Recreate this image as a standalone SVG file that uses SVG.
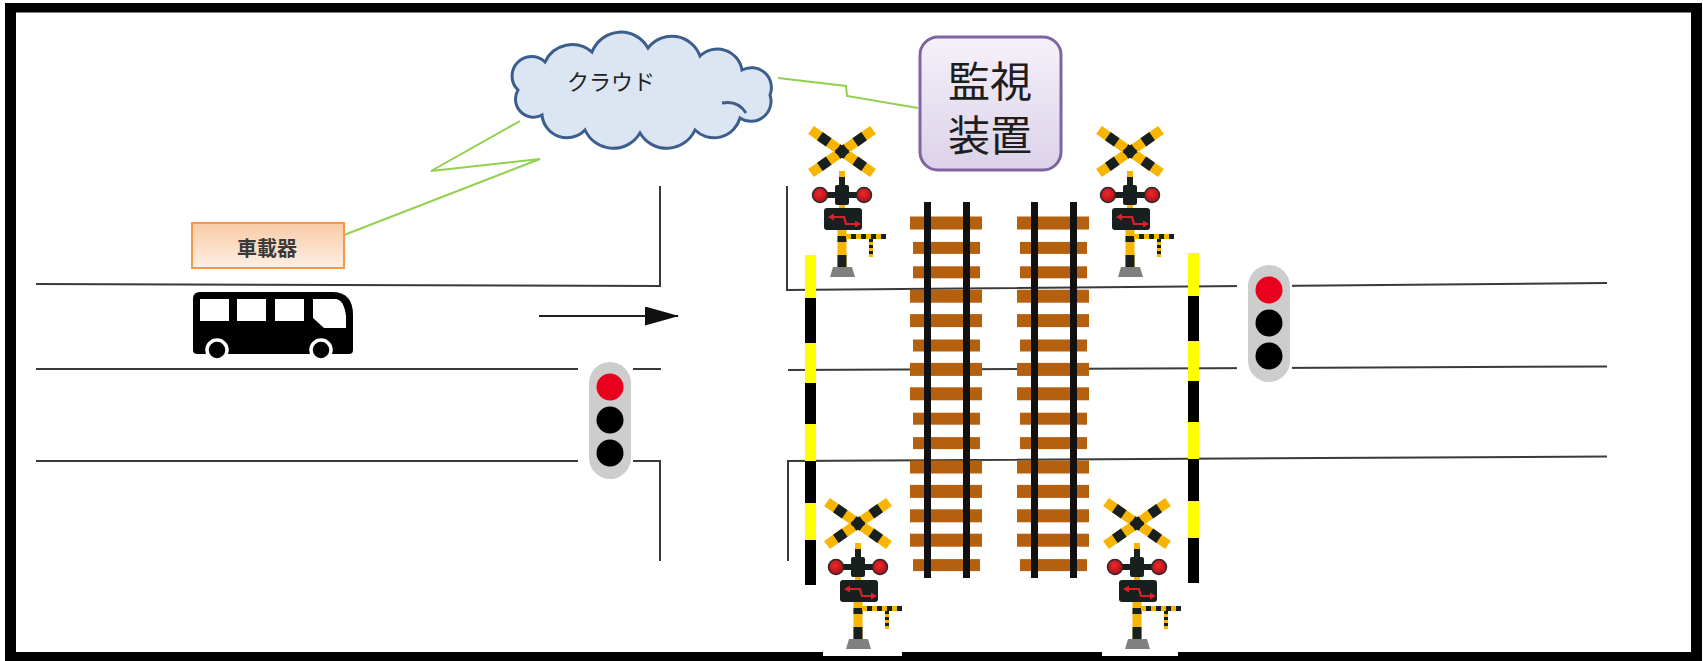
<svg xmlns="http://www.w3.org/2000/svg" width="1703" height="661" viewBox="0 0 1703 661">
<style>
  .road{fill:none;stroke:#3a3a3a;stroke-width:2}
  .bolt{fill:none;stroke:#92D050;stroke-width:2}
  .tie{fill:#B4600F}
  .rail{fill:#111}
  .jp{font-family:"Noto Sans CJK JP","Noto Sans",sans-serif}
  .jpbig{font-family:"Liberation Sans","Noto Sans CJK JP",sans-serif}
  .frame{fill:#000}
</style>
<defs>
  <linearGradient id="gOrange" x1="0" y1="0" x2="0" y2="1">
    <stop offset="0" stop-color="#F9CBA6"/>
    <stop offset="1" stop-color="#FEEFE4"/>
  </linearGradient>
  <linearGradient id="gPurple" x1="0" y1="0" x2="0" y2="1">
    <stop offset="0" stop-color="#F5F1F9"/>
    <stop offset="1" stop-color="#DCD2E9"/>
  </linearGradient>
  <radialGradient id="gLamp" cx="0.45" cy="0.4" r="0.6">
    <stop offset="0" stop-color="#F02828"/>
    <stop offset="1" stop-color="#A8101A"/>
  </radialGradient>
  <marker id="arrowHead" markerWidth="34" markerHeight="20" refX="33" refY="9.5" orient="auto" markerUnits="userSpaceOnUse">
    <polygon points="0,0 34,9.5 0,19" fill="#111"/>
  </marker>

  <!-- railway crossing signal, origin at the centre of the crossbuck -->
  <g id="xingSignal">
    <line x1="-31" y1="-21" x2="31" y2="22" stroke="#F7B500" stroke-width="10"/>
    <line x1="31" y1="-21" x2="-31" y2="22" stroke="#F7B500" stroke-width="10"/>
    <line x1="-31" y1="-21" x2="31" y2="22" stroke="#17201F" stroke-width="10" stroke-dasharray="10.78 10.78" stroke-dashoffset="10.78"/>
    <line x1="31" y1="-21" x2="-31" y2="22" stroke="#17201F" stroke-width="10" stroke-dasharray="10.78 10.78" stroke-dashoffset="10.78"/>
    <rect x="-3" y="20" width="6" height="6" fill="#F7B500"/>
    <rect x="-3" y="26" width="6" height="10" fill="#17201F"/>
    <rect x="-22" y="41" width="44" height="6" fill="#17201F"/>
    <rect x="-7" y="34" width="14" height="20" rx="2" fill="#17201F"/>
    <circle cx="-22" cy="44" r="7.5" fill="url(#gLamp)" stroke="#2a2a2a" stroke-width="1.5"/>
    <circle cx="22" cy="44" r="7.5" fill="url(#gLamp)" stroke="#2a2a2a" stroke-width="1.5"/>
    <rect x="-3" y="54" width="6" height="4" fill="#F7B500"/>
    <rect x="-18" y="57" width="38" height="22" rx="3" fill="#17201F"/>
    <polyline points="-10,66 2,66 4,73 15,73" fill="none" stroke="#E01E2A" stroke-width="2.2"/>
    <polygon points="-14,66 -8,62.5 -8,69.5" fill="#E01E2A"/>
    <polygon points="19,73 13,69.5 13,76.5" fill="#E01E2A"/>
    <rect x="-4.5" y="79" width="9" height="37" fill="#F7B500"/>
    <rect x="-4.5" y="85" width="9" height="6" fill="#17201F"/>
    <rect x="-4.5" y="104" width="9" height="12" fill="#17201F"/>
    <line x1="4" y1="85.5" x2="44" y2="85.5" stroke="#F7B500" stroke-width="5"/>
    <line x1="4" y1="85.5" x2="44" y2="85.5" stroke="#17201F" stroke-width="5" stroke-dasharray="5 5" stroke-dashoffset="5"/>
    <line x1="29" y1="88" x2="29" y2="106" stroke="#F7B500" stroke-width="4"/>
    <line x1="29" y1="88" x2="29" y2="106" stroke="#17201F" stroke-width="4" stroke-dasharray="3 3"/>
    <polygon points="-9,116 10,116 13,126 -12,126" fill="#808080"/>
  </g>

  <!-- road traffic light, origin at top centre of the housing -->
  <g id="trafficLight">
    <rect x="-32" y="-6" width="55" height="129" fill="#fff"/>
    <rect x="-21" y="0" width="42" height="117" rx="21" fill="#CDCDCD"/>
    <circle cx="0" cy="25" r="13.5" fill="#E8001C"/>
    <circle cx="0" cy="58" r="13.5" fill="#000"/>
    <circle cx="0" cy="91" r="13.5" fill="#000"/>
  </g>

  <!-- one railway track: sleepers and two rails -->
  <g id="track">
    <rect class="tie" x="0" y="216.5" width="72" height="13"/>
    <rect class="tie" x="3" y="241.9" width="67" height="12"/>
    <rect class="tie" x="3" y="266.3" width="67" height="12"/>
    <rect class="tie" x="0" y="289.7" width="72" height="13"/>
    <rect class="tie" x="0" y="314.1" width="72" height="13"/>
    <rect class="tie" x="3" y="339.5" width="67" height="12"/>
    <rect class="tie" x="0" y="362.9" width="72" height="13"/>
    <rect class="tie" x="0" y="387.3" width="72" height="13"/>
    <rect class="tie" x="3" y="412.7" width="67" height="12"/>
    <rect class="tie" x="3" y="437.1" width="67" height="12"/>
    <rect class="tie" x="0" y="460.5" width="72" height="13"/>
    <rect class="tie" x="0" y="484.9" width="72" height="13"/>
    <rect class="tie" x="0" y="509.3" width="72" height="13"/>
    <rect class="tie" x="0" y="533.7" width="72" height="13"/>
    <rect class="tie" x="3" y="559.1" width="67" height="12"/>
    <rect class="rail" x="14" y="202" width="7" height="376"/>
    <rect class="rail" x="53" y="202" width="7" height="376"/>
  </g>

  <!-- striped barrier pole -->
  <g id="barrier">
    <rect x="0" y="0" width="11" height="330" fill="#000"/>
    <rect x="0" y="0" width="11" height="43" fill="#FFFF00"/>
    <rect x="0" y="88" width="11" height="40" fill="#FFFF00"/>
    <rect x="0" y="169" width="11" height="37" fill="#FFFF00"/>
    <rect x="0" y="248" width="11" height="37" fill="#FFFF00"/>
  </g>
</defs>

<rect x="0" y="0" width="1703" height="661" fill="#fff"/>

<!-- outer frame -->
<g id="frame">
  <rect class="frame" x="5" y="3" width="1697" height="9.5"/>
  <rect class="frame" x="5" y="3" width="11" height="658"/>
  <rect class="frame" x="1691" y="3" width="11" height="658"/>
  <rect class="frame" x="5" y="652" width="1697" height="9"/>
</g>

<!-- road edges -->
<g id="roads">
  <polyline class="road" points="36,284 660,286 660,186"/>
  <line class="road" x1="36" y1="369" x2="661" y2="369"/>
  <polyline class="road" points="36,461 660,461 660,561"/>
  <polyline class="road" points="787,186 787,290 1607,283"/>
  <line class="road" x1="788" y1="370" x2="1607" y2="366.5"/>
  <polyline class="road" points="788,561 788,461 1607,456.5"/>
</g>

<!-- tracks -->
<g id="track1"><use href="#track" x="910" y="0"/></g>
<g id="track2"><use href="#track" x="1017" y="0"/></g>

<!-- crossing signals -->
<g id="signal-tl"><use href="#xingSignal" x="842" y="151"/></g>
<g id="signal-tr"><use href="#xingSignal" x="1130" y="151"/></g>
<g id="signal-bl">
  <rect x="823" y="490" width="79" height="166" fill="#fff"/>
  <use href="#xingSignal" x="858" y="523"/>
</g>
<g id="signal-br">
  <rect x="1102" y="490" width="76" height="166" fill="#fff"/>
  <use href="#xingSignal" x="1137" y="523"/>
</g>

<!-- barrier poles -->
<g id="barrier-left"><use href="#barrier" x="805" y="255"/></g>
<g id="barrier-right"><use href="#barrier" x="1188" y="253"/></g>

<!-- traffic lights -->
<g id="light-left"><use href="#trafficLight" x="610" y="362"/></g>
<g id="light-right"><use href="#trafficLight" x="1269" y="265"/></g>

<!-- bus -->
<g id="bus">
  <rect x="185" y="287" width="179" height="79" fill="#fff"/>
  <path d="M193,299 Q193,292 200,292 L332,292 Q353,292 353,315 L353,350 Q353,354 349,354 L197,354 Q193,354 193,350 Z" fill="#000"/>
  <rect x="200" y="299" width="29" height="22" fill="#fff"/>
  <rect x="237" y="299" width="29" height="22" fill="#fff"/>
  <rect x="275" y="299" width="29" height="22" fill="#fff"/>
  <path d="M313,299 L336,299 Q344,300 346,316 L346,328 L324,328 L313,318 Z" fill="#fff"/>
  <circle cx="217" cy="350" r="10" fill="#000" stroke="#fff" stroke-width="3.5"/>
  <circle cx="321" cy="350" r="10" fill="#000" stroke="#fff" stroke-width="3.5"/>
</g>

<!-- direction arrow and radio links -->
<g id="connectors">
  <line x1="539" y1="316" x2="678" y2="316" stroke="#222" stroke-width="2" marker-end="url(#arrowHead)"/>
  <polyline class="bolt" points="520,121 431,171 540,159 344,235"/>
  <polyline class="bolt" points="778,78 846,86 847,96 918,108"/>
</g>

<!-- on-board unit -->
<g id="onboard">
  <rect x="192" y="223" width="152" height="45" fill="url(#gOrange)" stroke="#F79646" stroke-width="2"/>
  <text class="jp" x="267" y="256" font-size="20" font-weight="bold" fill="#3a3a3a" text-anchor="middle">車載器</text>
</g>

<!-- cloud -->
<g id="cloud">
  <path d="M518,90 A19,19 0 0 1 545,62 A30,30 0 0 1 592,52 A31,31 0 0 1 648,48 A30,30 0 0 1 700,56 A25,25 0 0 1 742,70 A20,20 0 0 1 770,95 A20,20 0 0 1 740,118 A27,27 0 0 1 695,130 A31,31 0 0 1 640,133 A31,31 0 0 1 585,130 A25,25 0 0 1 542,115 A18,18 0 0 1 518,90 Z" fill="#DCE6F2" stroke="#3B5E8C" stroke-width="3"/>
  <path d="M722,103 Q738,100 746,113" fill="none" stroke="#3B5E8C" stroke-width="3"/>
  <text class="jp" x="567" y="90" font-size="22" fill="#222">クラウド</text>
</g>

<!-- monitoring unit -->
<g id="monitor">
  <rect x="920" y="37" width="141" height="133" rx="18" fill="url(#gPurple)" stroke="#8064A2" stroke-width="3"/>
  <text class="jpbig" x="990" y="97" font-size="42" fill="#1e1e1e" text-anchor="middle">監視</text>
  <text class="jpbig" x="990" y="151" font-size="42" fill="#1e1e1e" text-anchor="middle">装置</text>
</g>
</svg>
